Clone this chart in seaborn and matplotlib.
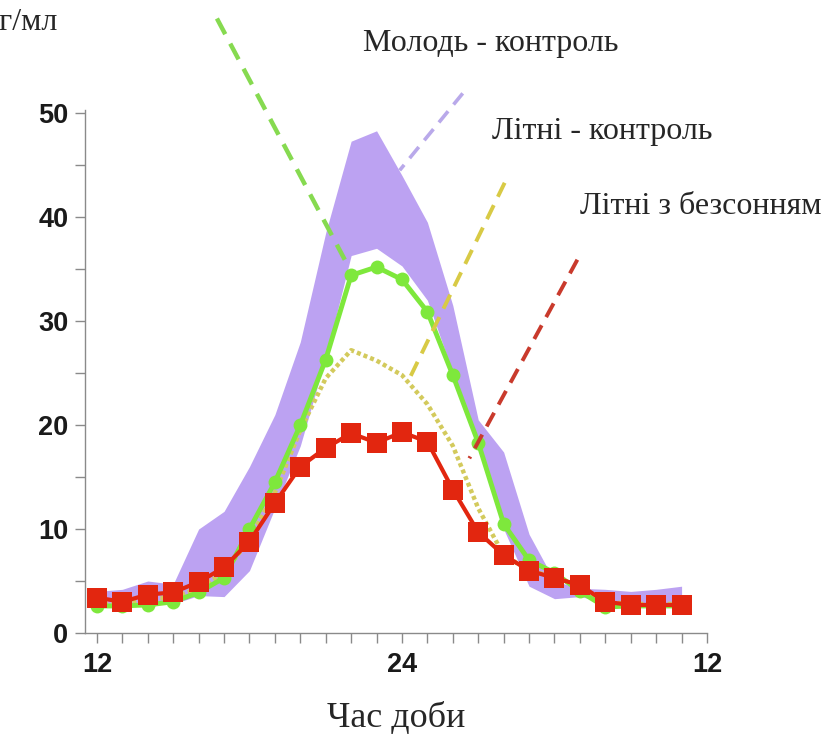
import numpy as np
import pandas as pd
from matplotlib import pyplot as plt
from matplotlib.ticker import FixedLocator, MultipleLocator
import seaborn as sns

# hours from noon to 11 next morning (24 -> midnight)
hours = list(range(12, 36))

# young - control: band (upper / lower edge)
young_upper = [4.0, 4.2, 5.0, 4.7, 10.0, 11.7, 16.0, 21.0, 28.0, 38.5, 47.3, 48.3,
               44.0, 39.5, 31.5, 20.5, 17.4, 9.5, 5.0, 4.3, 4.2, 4.0, 4.2, 4.5]
young_lower = [2.5, 2.8, 2.8, 2.8, 3.6, 3.5, 6.0, 12.0, 18.0, 26.5, 36.3, 37.0,
               35.3, 32.0, 25.0, 18.0, 10.0, 4.5, 3.3, 3.5, 3.0, 2.8, 2.8, 3.0]

# elderly - control (green line + circles)
old_ctrl = [2.6, 2.6, 2.7, 3.0, 3.9, 5.3, 10.0, 14.5, 20.0, 26.3, 34.4, 35.2,
            34.0, 30.9, 24.8, 18.3, 10.5, 7.0, 5.8, 4.0, 2.5, 2.6, 2.6, 2.6]

# elderly - control, second trace (yellow dotted)
old_ctrl2 = [2.8, 2.8, 3.3, 3.4, 4.3, 5.8, 9.0, 13.5, 19.5, 24.5, 27.2, 26.2,
             24.8, 22.0, 18.0, 12.0, 7.5, 6.0, 5.4, 4.4, 3.0, 2.8, 2.8, 2.8]

# elderly with insomnia (red squares)
old_insomnia = [3.4, 3.0, 3.7, 3.9, 4.9, 6.3, 8.8, 12.5, 16.0, 17.8, 19.2, 18.3,
                19.3, 18.4, 13.8, 9.7, 7.5, 6.0, 5.3, 4.6, 3.0, 2.7, 2.7, 2.7]

# annotation leader lines: (x0, y0, x1, y1) in data units
lead_green = [16.72, 59.1, 21.75, 35.9]
lead_purple = [26.39, 51.9, 23.91, 44.5]
lead_yellow = [28.04, 43.3, 24.3, 24.5]
lead_red = [30.9, 35.9, 26.65, 16.8]

PURPLE = "#bca2f2"
GREEN = "#7ee83c"
YELLOW = "#d3ca5c"
RED = "#e2260f"

df = pd.DataFrame({"hour": hours, "upper": young_upper, "lower": young_lower,
                   "old": old_ctrl, "old2": old_ctrl2, "ins": old_insomnia})

sns.set_style("white")
plt.rcParams["font.family"] = ["Liberation Sans", "DejaVu Sans"]

fig = plt.figure(figsize=(8.27, 7.38), dpi=100)
ax = fig.add_axes([85 / 827, 1 - 633 / 738, 622 / 827, 523 / 738])

ax.fill_between(df["hour"], df["lower"], df["upper"], color=PURPLE, lw=0, zorder=1)

sns.lineplot(data=df, x="hour", y="old2", color=YELLOW, lw=3.2, ls=(0, (0.9, 0.7)),
             ax=ax, zorder=2)
sns.lineplot(data=df, x="hour", y="old", color=GREEN, lw=3.5, marker="o",
             markersize=10, markeredgewidth=0, ax=ax, zorder=3)
sns.lineplot(data=df, x="hour", y="ins", color=RED, lw=3, marker="s",
             markersize=14, markeredgewidth=0, ax=ax, zorder=4)

for seg, c, lw in [(lead_green, "#86da50", 3.2), (lead_purple, "#b9a9ea", 2.6),
                   (lead_yellow, "#d8ca45", 2.8), (lead_red, "#c93a2c", 2.8)]:
    ax.plot([seg[0], seg[2]], [seg[1], seg[3]], color=c, lw=lw, ls=(0, (4, 2.4)),
            clip_on=False, zorder=5)

ax.set_xlim(11.53, 36.0)
ax.set_ylim(0, 50.3)
ax.xaxis.set_major_locator(FixedLocator([12, 24, 36]))
ax.set_xticklabels(["12", "24", "12"])
ax.xaxis.set_minor_locator(MultipleLocator(1))
ax.yaxis.set_major_locator(MultipleLocator(10))
ax.yaxis.set_minor_locator(MultipleLocator(5))
ax.tick_params(axis="both", which="both", direction="out", color="#8a8a8a",
               width=1, bottom=True, left=True)
ax.tick_params(axis="x", which="major", length=7, pad=7)
ax.tick_params(axis="x", which="minor", length=7)
ax.tick_params(axis="y", which="major", length=7, pad=5)
ax.tick_params(axis="y", which="minor", length=7)
for lab in ax.get_xticklabels() + ax.get_yticklabels():
    lab.set_fontsize(19.5)
    lab.set_fontweight("bold")
    lab.set_color("#1a1a1a")
ax.set_xlabel("")
ax.set_ylabel("")
for side in ["top", "right"]:
    ax.spines[side].set_visible(False)
for side in ["left", "bottom"]:
    ax.spines[side].set_color("#8a8a8a")
    ax.spines[side].set_linewidth(1)

serif = ["Liberation Serif", "DejaVu Serif"]
fig.text(491 / 827, 1 - 43 / 738, "Молодь - контроль", family=serif, fontsize=23,
         ha="center", va="center")
fig.text(602 / 827, 1 - 131 / 738, "Літні - контроль", family=serif, fontsize=23,
         ha="center", va="center")
fig.text(701 / 827, 1 - 207 / 738, "Літні з безсонням", family=serif, fontsize=23,
         ha="center", va="center")
fig.text(396 / 827, 1 - 719 / 738, "Час доби", family=serif, fontsize=26,
         ha="center", va="center")
fig.text(58 / 827, 1 - 22 / 738, "пг/мл", family=serif, fontsize=23,
         ha="right", va="center")

plt.savefig("out.png", dpi=100)
